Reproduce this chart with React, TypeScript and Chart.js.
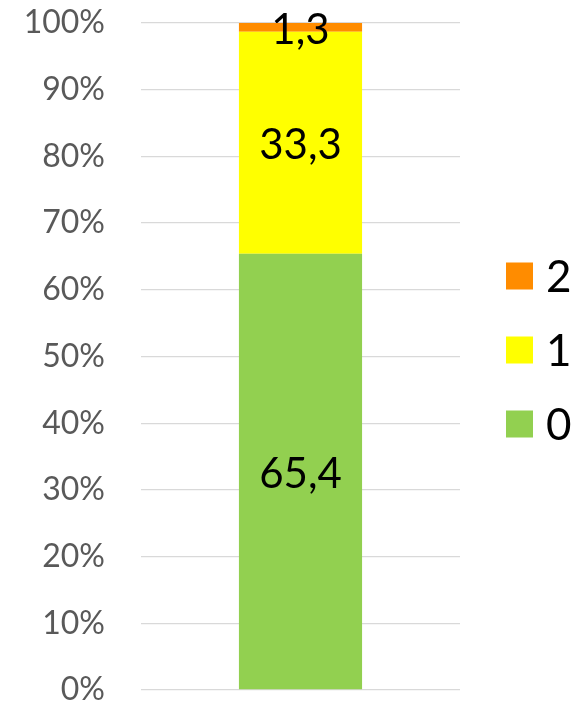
import React, { useEffect, useRef } from "react";
import { Chart, registerables } from "chart.js";

Chart.register(...registerables);

const categories = [""];
const seriesLabels = ["0", "1", "2"];
const series0 = [65.4];
const series1 = [33.3];
const series2 = [1.3];
const seriesColors = ["#92D050", "#FFFF00", "#FF8C00"];
const yTicks = [0, 10, 20, 30, 40, 50, 60, 70, 80, 90, 100];

const FONT = "Lato, 'Liberation Sans', sans-serif";

const valueLabels = {
  id: "valueLabels",
  afterDatasetsDraw(chart: any) {
    const ctx = chart.ctx;
    ctx.save();
    ctx.font = `42px ${FONT}`;
    ctx.fillStyle = "#000";
    ctx.textAlign = "center";
    ctx.textBaseline = "middle";
    chart.data.datasets.forEach((ds: any, i: number) => {
      const meta = chart.getDatasetMeta(i);
      meta.data.forEach((el: any, j: number) => {
        const v = ds.data[j];
        const cy = (el.y + el.base) / 2;
        ctx.fillText(v.toFixed(1).replace(".", ","), el.x, cy + 3);
      });
    });
    ctx.restore();
  },
};

const sideLegend = {
  id: "sideLegend",
  afterDraw(chart: any) {
    const ctx = chart.ctx;
    const ds = chart.data.datasets.slice().reverse();
    const spacing = 74;
    const box = 27;
    const x0 = chart.chartArea.right + 46;
    const mid = chart.height / 2 - 1.5;
    const startY = mid - ((ds.length - 1) * spacing) / 2;
    ctx.save();
    ctx.font = `44px ${FONT}`;
    ctx.textAlign = "left";
    ctx.textBaseline = "middle";
    ds.forEach((d: any, i: number) => {
      const cy = startY + i * spacing;
      ctx.fillStyle = d.backgroundColor;
      ctx.fillRect(x0, cy - box / 2, box, box);
      ctx.fillStyle = "#000";
      ctx.fillText(d.label, x0 + box + 13, cy + 2);
    });
    ctx.restore();
  },
};

export default function App() {
  const ref = useRef<HTMLCanvasElement>(null);
  useEffect(() => {
    if (!ref.current) return;
    const chart = new Chart(ref.current, {
      type: "bar",
      data: {
        labels: categories,
        datasets: [
          { label: seriesLabels[0], data: series0, backgroundColor: seriesColors[0] },
          { label: seriesLabels[1], data: series1, backgroundColor: seriesColors[1] },
          { label: seriesLabels[2], data: series2, backgroundColor: seriesColors[2] },
        ],
      },
      options: {
        animation: false,
        responsive: false,
        maintainAspectRatio: false,
        layout: { padding: { left: 26, top: 23, bottom: 13, right: 121 } },
        datasets: { bar: { barPercentage: 1, categoryPercentage: 0.386 } },
        plugins: { legend: { display: false }, tooltip: { enabled: false } },
        scales: {
          x: { stacked: true, display: false },
          y: {
            stacked: true,
            min: 0,
            max: 100,
            afterBuildTicks: (axis: any) => {
              axis.ticks = yTicks.map((v) => ({ value: v }));
            },
            afterFit: (axis: any) => {
              axis.width = 115;
              axis.paddingTop = 0;
              axis.paddingBottom = 0;
            },
            ticks: {
              callback: (v: any) => v + "%",
              color: "#595959",
              font: { family: FONT, size: 32 },
              padding: 36,
            },
            grid: { color: "#D9D9D9", lineWidth: 1.3, drawTicks: false },
            border: { display: false },
          },
        },
      },
      plugins: [valueLabels, sideLegend],
    });
    return () => chart.destroy();
  }, []);
  return (
    <div style={{ position: "fixed", left: 0, top: 0, width: 581, height: 703, background: "#fff" }}>
      <canvas ref={ref} width={581} height={703} style={{ display: "block" }} />
    </div>
  );
}
